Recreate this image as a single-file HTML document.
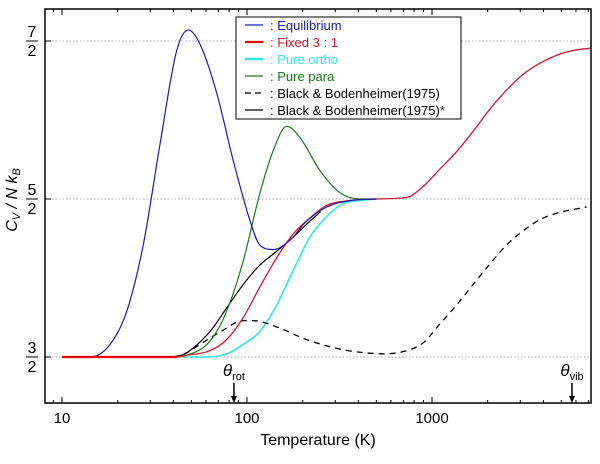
<!DOCTYPE html>
<html><head><meta charset="utf-8"><style>
html,body{margin:0;padding:0;background:#fff;}
svg text{font-family:"Liberation Sans",sans-serif;}
</style></head><body>
<svg id="chart" width="600" height="459" viewBox="0 0 600 459" xmlns="http://www.w3.org/2000/svg">
<g id="grid"></g>
<g id="series"></g>
<g id="axes"></g>
<g id="legend"></g>
</svg>
<script>
const eqT=[10,14.2,18.2,22.4,27.5,33.9,41.7,48.2,55.7,68.6,84.4,104,117,139,171,210,270,360,500];
const eqV=[1.5,1.5,1.58,1.79,2.21,2.85,3.44,3.57,3.48,3.17,2.74,2.36,2.21,2.18,2.24,2.36,2.45,2.49,2.5];
const paraT=[10,40,47,63,77.6,95.5,117,139,164,193,248,318,408,500];
const paraV=[1.5,1.5,1.51,1.6,1.79,2.11,2.53,2.81,2.96,2.89,2.68,2.54,2.5,2.5];
const fixT=[10,40,46,63,77.6,95.5,117,145,178,219,270,360,500,730,897,1104,1360,1672,2060,2535,3120,3840,4720,5810,7210];
const fixV=[1.5,1.5,1.51,1.54,1.61,1.75,1.94,2.13,2.28,2.38,2.46,2.49,2.5,2.51,2.58,2.69,2.8,2.93,3.07,3.19,3.29,3.36,3.41,3.44,3.455];
const orthoT=[45,60,77.6,95.5,117,145,178,219,270,330,408,500];
const orthoV=[1.5,1.5,1.52,1.58,1.66,1.83,2.05,2.26,2.39,2.47,2.49,2.5];
const bbsT=[40,46,63,77.6,95.5,117,145,178,219,250];
const bbsV=[1.5,1.52,1.66,1.81,1.96,2.08,2.17,2.26,2.36,2.42];
const bbdT=[40,46,55.7,72,95.5,108,145,210,318,408,546,730,897,1104,1360,1672,2060,2535,3120,3840,4720,6860];
const bbdV=[1.5,1.52,1.58,1.66,1.73,1.73,1.69,1.61,1.55,1.53,1.52,1.54,1.59,1.71,1.83,1.96,2.09,2.21,2.3,2.37,2.41,2.45];
const xTicks=[10,100,1000];
const xTickLabels=["10","100","1000"];
const yTicksNum=[7,5,3];
const legendLabels=["Equilibrium","Fixed 3 : 1","Pure ortho","Pure para","Black & Bodenheimer(1975)","Black & Bodenheimer(1975)*"];

const L=45,R=591,T0=9,B=403;
const x=t=>62+185*Math.log10(t/10);
const y=v=>199-(v-2.5)*158;
const NS="http://www.w3.org/2000/svg";
function mk(tag,attrs,parent){const e=document.createElementNS(NS,tag);for(const k in attrs)e.setAttribute(k,attrs[k]);parent.appendChild(e);return e;}
function pathD(ts,vs){
  const px=ts.map(x),py=vs.map(y),n=px.length;
  const d=[],m=new Array(n);
  for(let i=0;i<n-1;i++)d.push((py[i+1]-py[i])/(px[i+1]-px[i]));
  m[0]=d[0];m[n-1]=d[n-2];
  for(let i=1;i<n-1;i++){m[i]=(d[i-1]*d[i]<=0)?0:(d[i-1]+d[i])/2;}
  for(let i=0;i<n-1;i++){
    if(d[i]===0){m[i]=0;m[i+1]=0;continue;}
    const a=m[i]/d[i],b=m[i+1]/d[i],s=a*a+b*b;
    if(s>9){const t=3/Math.sqrt(s);m[i]=t*a*d[i];m[i+1]=t*b*d[i];}
  }
  let s=`M${px[0]},${py[0]}`;
  for(let i=0;i<n-1;i++){
    const h=px[i+1]-px[i];
    s+=` C${px[i]+h/3},${py[i]+m[i]*h/3} ${px[i+1]-h/3},${py[i+1]-m[i+1]*h/3} ${px[i+1]},${py[i+1]}`;
  }
  return s;
}
const grid=document.getElementById('grid');
[3.5,2.5,1.5].forEach(v=>{
  const g=mk('line',{x1:L,x2:R,y1:y(v),y2:y(v),stroke:'#aaa','stroke-width':1,'stroke-dasharray':'1.5,2'},grid);
  
  
});
const ser=document.getElementById('series');
const defs=[
 [orthoT,orthoV,'#33e6e6',1.6,'','pure-ortho-line'],
 [bbdT,bbdV,'#000',1.3,'6,5','black-bodenheimer-dashed-line'],
 [bbsT,bbsV,'#000',1.2,'','black-bodenheimer-solid-line'],
 [paraT,paraV,'#1a7a1a',1.2,'','pure-para-line'],
 [fixT,fixV,'#cc1a2a',1.3,'','fixed-3-1-line'],
 [eqT,eqV,'#1a1ab0',1.2,'','equilibrium-line']
];
defs.forEach(s=>{
  const p=mk('path',{d:pathD(s[0],s[1]),fill:'none',stroke:s[2],'stroke-width':s[3]},ser);
  if(s[4])p.setAttribute('stroke-dasharray',s[4]);
  
  
});
const redBase=mk('line',{x1:x(10),x2:x(42),y1:y(1.5),y2:y(1.5),stroke:'#e00',"stroke-width":2.2},ser);



const ax=document.getElementById('axes');
const frame=mk('rect',{x:L,y:T0,width:R-L,height:B-T0,fill:'none',stroke:'#000','stroke-width':1.5},ax);


for(let dec=1;dec<=1000;dec*=10){for(let m=1;m<10;m++){const tv=dec*10*m/10*1*10/10*1; const val=dec*m*1; if(val<8.1||val>7240)continue;const xx=x(val*1);const len=m===1?6:3;
  const a=mk('line',{x1:xx,x2:xx,y1:B,y2:B-len,stroke:'#000','stroke-width':1},ax);
  
  
  const b=mk('line',{x1:xx,x2:xx,y1:T0,y2:T0+len,stroke:'#000','stroke-width':1},ax);
  
  
}}
xTicks.forEach((t,i)=>{
  const tx=mk('text',{x:x(t),y:423,'text-anchor':'middle','font-size':15},ax);
  tx.textContent=xTickLabels[i];
  
  
});
yTicksNum.forEach(n=>{
  const yy=y(n/2);
  const t1=mk('text',{x:32,y:yy-4,'text-anchor':'middle','font-size':16},ax);t1.textContent=String(n);
  
  
  const ln=mk('line',{x1:26,x2:38,y1:yy,y2:yy,stroke:'#000','stroke-width':1},ax);
  
  
  const t2=mk('text',{x:32,y:yy+15,'text-anchor':'middle','font-size':16},ax);t2.textContent='2';
  
  
  const tk=mk('line',{x1:L,x2:L+6,y1:yy,y2:yy,stroke:'#000'},ax);
  
  
});
const xl=mk('text',{x:318,y:445,'text-anchor':'middle','font-size':16},ax);xl.textContent='Temperature (K)';


const yl=mk('text',{x:0,y:0,'text-anchor':'middle','font-size':16,'font-style':'italic',transform:'translate(17,200) rotate(-90)'},ax);
yl.innerHTML='C<tspan font-size="11" dy="3">V</tspan><tspan dy="-3"> / N k</tspan><tspan font-size="11" dy="3">B</tspan>';


[[85,'rot','theta-rot'],[5710,'vib','theta-vib']].forEach(a=>{
  const xx=x(a[0]);
  const t=mk('text',{x:xx,y:376,'text-anchor':'middle','font-size':17,'font-style':'italic','font-family':'Liberation Serif'},ax);
  t.innerHTML='θ<tspan font-size="11" font-style="normal" dy="4">'+a[1]+'</tspan>';
  
  
  const l=mk('line',{x1:xx,x2:xx,y1:383,y2:397,stroke:'#000','stroke-width':1.5},ax);
  
  
  const h=mk('polygon',{points:`${xx-3},396 ${xx+3},396 ${xx},403`,fill:'#000'},ax);
  
  
});
const lg=document.getElementById('legend');
const box=mk('rect',{x:236,y:17,width:225,height:102,fill:'#fff',stroke:'#000','stroke-width':1},lg);


const lc=['#1a1ab0','#e00','#33e6e6','#1a7a1a','#000','#000'];
const lw=[1.2,2.2,2.4,1.2,1.2,1.2];
const tc=['#1a1ab0','#cc1a2a','#33e6e6','#1a7a1a','#000','#000'];
legendLabels.forEach((lab,i)=>{
  const yy=25+i*17;
  const l=mk('line',{x1:245,x2:263,y1:yy,y2:yy,stroke:lc[i],'stroke-width':lw[i]},lg);
  if(i===4)l.setAttribute('stroke-dasharray','6,4');
  
  
  const t=mk('text',{x:270,y:yy+5,'font-size':13,fill:tc[i]},lg);
  t.textContent=':  '+lab;
  t.setAttribute('xml:space','preserve');
  
  
});
</script>
</body></html>
